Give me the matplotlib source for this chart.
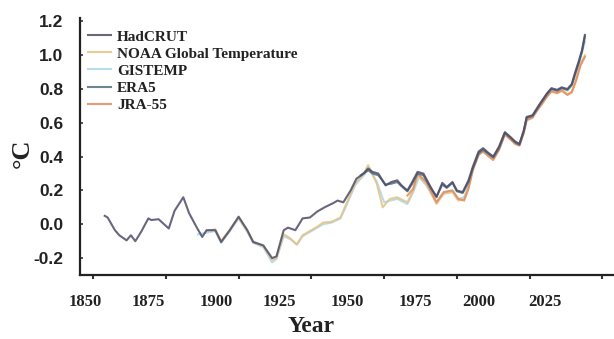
import matplotlib
matplotlib.use("Agg")
import matplotlib.pyplot as plt

# ---------------- data ----------------
hadcrut_years = [1854, 1855, 1857.5, 1859, 1861.5, 1863, 1864.5, 1866.5, 1869, 1870, 1872.5, 1876, 1878, 1881,
                 1883, 1885.5, 1887.5, 1889, 1892, 1894, 1897, 1900, 1903, 1905, 1908.5, 1911.5, 1913, 1915.5,
                 1917, 1919.5, 1922, 1924.5, 1927, 1929.5, 1932.5, 1934, 1936, 1938.5, 1940.5, 1943, 1944.5,
                 1946, 1948, 1950.5, 1952.5, 1954.5, 1956, 1958, 1959.5, 1961.5, 1963.5, 1966, 1968, 1970,
                 1971.5, 1973.5, 1975, 1977, 1979, 1980.5, 1982.5, 1984, 1986, 1987.5, 1989.5, 1991.5, 1993.5,
                 1995, 1996.5, 1998, 1999, 2001, 2002.5, 2004, 2006, 2007.5, 2009.5, 2011, 2013, 2014.5, 2015.5,
                 2017, 2018, 2019]
hadcrut = [0.05, 0.04, -0.035, -0.065, -0.095, -0.065, -0.10, -0.045, 0.035, 0.025, 0.03, -0.025, 0.08, 0.16,
           0.065, -0.015, -0.075, -0.035, -0.035, -0.105, -0.035, 0.045, -0.035, -0.105, -0.125, -0.20, -0.19,
           -0.035, -0.02, -0.035, 0.035, 0.04, 0.075, 0.10, 0.125, 0.14, 0.13, 0.20, 0.27, 0.30, 0.33, 0.31,
           0.30, 0.23, 0.25, 0.26, 0.23, 0.20, 0.245, 0.31, 0.30, 0.22, 0.16, 0.245, 0.22, 0.25, 0.20, 0.19,
           0.26, 0.34, 0.43, 0.45, 0.42, 0.40, 0.46, 0.545, 0.515, 0.49, 0.475, 0.555, 0.635, 0.645, 0.685,
           0.725, 0.775, 0.805, 0.795, 0.81, 0.80, 0.83, 0.89, 0.97, 1.03, 1.12]

noaa_years = [1889, 1892, 1894, 1897, 1900, 1903, 1905, 1908.5, 1911.5, 1913, 1915.5, 1917.5, 1920, 1922, 1927,
              1929, 1932, 1935, 1937, 1940, 1943, 1944.5, 1947.5, 1949.5, 1952, 1954.5, 1958, 1960, 1961.5,
              1964.5, 1968, 1970.5, 1973.5, 1975.5, 1977.5, 1979, 1980.5, 1982.5, 1984, 1986, 1987.5, 1989.5,
              1991.5, 1993.5, 1995, 1996.5, 1998, 1999, 2001, 2002.5, 2004, 2006, 2007.5, 2009.5, 2011, 2013,
              2014.5, 2016, 2017.5, 2019]
noaa = [-0.04, -0.03, -0.10, -0.03, 0.04, -0.04, -0.10, -0.13, -0.21, -0.20, -0.06, -0.08, -0.12, -0.065,
        -0.015, 0.01, 0.015, 0.04, 0.12, 0.24, 0.30, 0.35, 0.24, 0.10, 0.15, 0.16, 0.13, 0.20, 0.29, 0.24, 0.12,
        0.18, 0.19, 0.14, 0.15, 0.22, 0.33, 0.42, 0.44, 0.41, 0.39, 0.45, 0.535, 0.505, 0.48, 0.47, 0.545, 0.62,
        0.635, 0.675, 0.71, 0.76, 0.79, 0.78, 0.795, 0.77, 0.785, 0.86, 0.95, 1.0]

gistemp_years = [1886, 1889, 1892, 1894, 1897, 1900, 1903, 1905, 1908.5, 1911.5, 1913, 1915.5, 1918, 1920, 1922,
                 1927, 1929, 1932, 1935, 1937, 1940, 1943, 1945, 1947.5, 1950, 1952, 1954.5, 1958, 1960, 1962,
                 1964.5, 1968, 1970.5, 1973.5, 1975.5, 1977.5, 1979, 1980.5, 1982.5, 1984, 1986, 1988, 1990,
                 1991.5, 1993.5, 1995, 1996.5, 1998, 1999, 2001, 2002.5, 2004, 2006, 2007.5, 2009.5, 2011, 2013,
                 2014.5, 2016, 2017.5, 2019]
gistemp = [-0.06, -0.05, -0.04, -0.11, -0.04, 0.035, -0.045, -0.11, -0.135, -0.225, -0.205, -0.07, -0.09, -0.12,
           -0.07, -0.02, 0.0, 0.01, 0.035, 0.11, 0.23, 0.29, 0.33, 0.25, 0.13, 0.14, 0.15, 0.12, 0.19, 0.28, 0.23,
           0.13, 0.19, 0.20, 0.15, 0.16, 0.23, 0.34, 0.43, 0.445, 0.415, 0.40, 0.47, 0.54, 0.51, 0.485, 0.475,
           0.55, 0.63, 0.64, 0.68, 0.72, 0.77, 0.80, 0.79, 0.805, 0.79, 0.82, 0.90, 0.99, 1.08]

era5_years = [1942, 1944.5, 1946, 1948, 1950.5, 1952.5, 1954.5, 1956, 1958, 1959.5, 1961.5, 1963.5, 1966, 1968,
              1970, 1971.5, 1973.5, 1975, 1977, 1979, 1980.5, 1982.5, 1984, 1986, 1987.5, 1989.5, 1991.5, 1993.5,
              1995, 1996.5, 1998, 1999, 2001, 2002.5, 2004, 2006, 2007.5, 2009.5, 2011, 2013, 2014.5, 2015.5,
              2017, 2018, 2019]
era5 = [0.29, 0.32, 0.30, 0.29, 0.235, 0.24, 0.25, 0.225, 0.195, 0.235, 0.30, 0.29, 0.215, 0.165, 0.235, 0.215,
        0.245, 0.195, 0.185, 0.25, 0.33, 0.42, 0.44, 0.415, 0.395, 0.45, 0.54, 0.51, 0.485, 0.47, 0.55, 0.63,
        0.64, 0.68, 0.72, 0.77, 0.80, 0.79, 0.805, 0.795, 0.825, 0.88, 0.96, 1.02, 1.11]

jra55_years = [1958, 1960, 1961.5, 1964.5, 1968, 1970.5, 1973.5, 1975.5, 1977.5, 1979, 1980.5, 1982.5, 1984,
               1986, 1987.5, 1989.5, 1991.5, 1993.5, 1995, 1996.5, 1998, 1999, 2001, 2002.5, 2004, 2006, 2007.5,
               2009.5, 2011, 2013, 2014.5, 2016, 2017.5, 2019]
jra55 = [0.17, 0.21, 0.30, 0.25, 0.13, 0.19, 0.20, 0.15, 0.14, 0.21, 0.32, 0.41, 0.43, 0.40, 0.38, 0.44, 0.53,
         0.50, 0.475, 0.465, 0.54, 0.615, 0.63, 0.67, 0.705, 0.755, 0.785, 0.775, 0.79, 0.765, 0.78, 0.85, 0.94,
         0.99]

series_names = ["HadCRUT", "NOAA Global Temperature", "GISTEMP", "ERA5", "JRA-55"]
x_ticks = [1850, 1875, 1900, 1925, 1950, 1975, 2000, 2025]
x_ticklabels = ["1850", "1875", "1900", "1925", "1950", "1975", "2000", "2025"]
y_ticks = [-0.2, 0.0, 0.2, 0.4, 0.6, 0.8, 1.0, 1.2]
y_ticklabels = ["-0.2", "0.0", "0.2", "0.4", "0.6", "0.8", "1.0", "1.2"]

# label positions (layout: the labels in the original sit off their tick marks)
x_label_pos = [1847.3, 1869.0, 1892.3, 1914.0, 1937.3, 1960.7, 1982.5, 2005.4]

colors = ["#4e4c68", "#e2c486", "#acd6e6", "#52707f", "#e28c5c"]

# ---------------- figure ----------------
W, H = 614, 339
fig = plt.figure(figsize=(W / 100, H / 100), dpi=100)
ax = fig.add_axes([80 / W, 1 - 275 / H, (W - 80) / W, (275 - 18) / H])

data = [(hadcrut_years, hadcrut), (noaa_years, noaa), (gistemp_years, gistemp),
        (era5_years, era5), (jra55_years, jra55)]
zorders = [6, 3, 2, 5, 4]
for (xs, ys), name, c, z in zip(data, series_names, colors, zorders):
    ax.plot(xs, ys, color=c, lw=1.5, label=name, zorder=z, alpha=0.85)

ax.set_xlim(1845.5, 2029)
ax.set_ylim(-0.30, 1.22)

for s in ["top", "right"]:
    ax.spines[s].set_visible(False)
for s in ["left", "bottom"]:
    ax.spines[s].set_linewidth(1.6)
    ax.spines[s].set_color("#222222")

# x: tick marks at true years, labels at their own positions
ax.set_xticks(x_ticks)
ax.set_xticklabels([])
ax.tick_params(axis="x", which="major", direction="out", length=3, width=1.5, color="#333333")
ax.set_xticks(x_label_pos, minor=True)
ax.set_xticklabels(x_ticklabels, minor=True, fontfamily="Liberation Serif", fontweight="bold",
                   fontsize=12, color="#222222")
ax.tick_params(axis="x", which="minor", length=0, pad=14)

ax.set_yticks(y_ticks)
ax.set_yticklabels(y_ticklabels, fontfamily="Liberation Sans", fontweight="bold", fontsize=12.5,
                   color="#222222")
ax.tick_params(axis="y", direction="in", length=2.5, width=1.2, pad=12, color="#333333")

fig.text(311 / W, 1 - 327 / H, "Year", ha="center", va="center", fontfamily="Liberation Serif",
         fontweight="bold", fontsize=17, color="#222222")
fig.text(22 / W, 1 - 153 / H, "°C", ha="center", va="center", rotation=90, fontfamily="Liberation Serif",
         fontweight="bold", fontsize=19, color="#222222")

leg = ax.legend(loc="upper left", bbox_to_anchor=(88 / W, 1 - 30 / H), bbox_transform=fig.transFigure,
                frameon=False, borderpad=0, borderaxespad=0, handlelength=1.5, handletextpad=0.4,
                labelspacing=0.22, prop={"family": "Liberation Serif", "weight": "bold", "size": 11})
for t in leg.get_texts():
    t.set_color("#222222")

fig.savefig("out.png", dpi=100)
